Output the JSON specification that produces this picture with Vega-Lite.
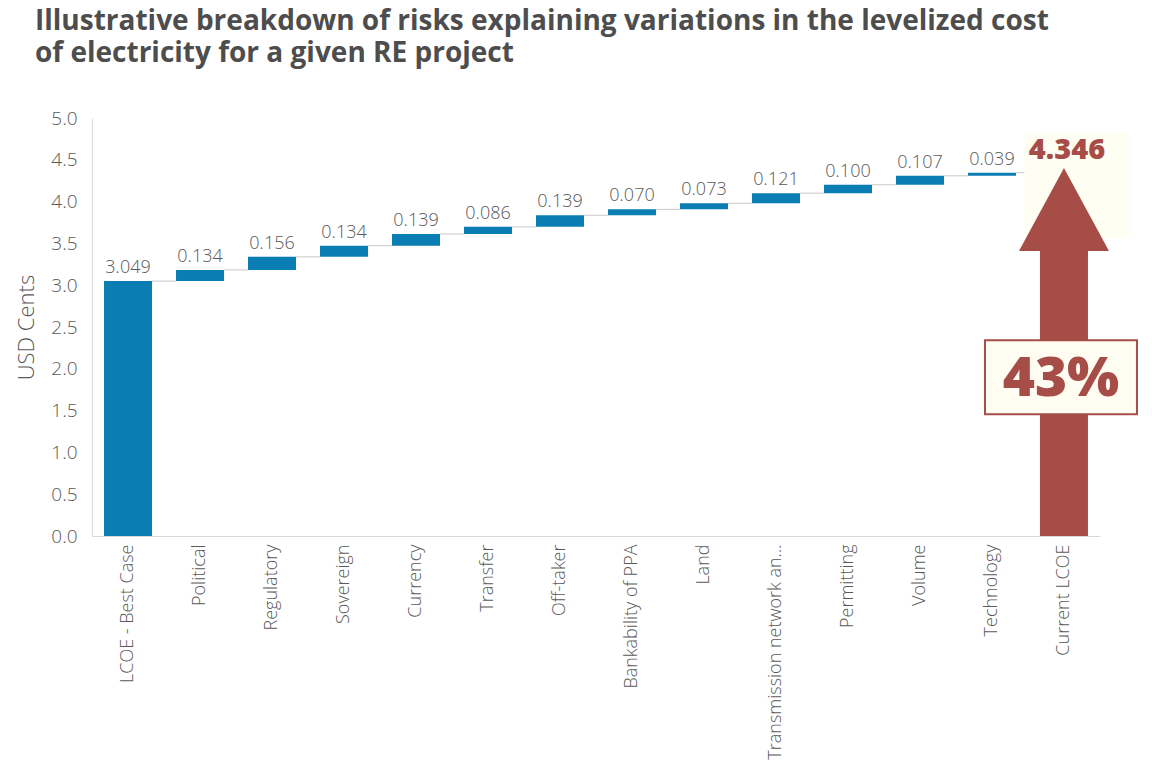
{
  "$schema": "https://vega.github.io/schema/vega-lite/v6.json",
  "autosize": "none",
  "width": 1008,
  "height": 418,
  "padding": {"left": 92, "top": 118, "right": 52, "bottom": 246},
  "background": "white",
  "config": {
    "view": {"stroke": null},
    "font": "Open Sans",
    "axis": {"labelFont": "Open Sans", "titleFont": "Open Sans", "labelColor": "#595959", "titleColor": "#595959"}
  },
  "title": {
    "text": ["Illustrative breakdown of risks explaining variations in the levelized cost", "of electricity for a given RE project"],
    "anchor": "start",
    "frame": "group",
    "dx": -57,
    "offset": 41,
    "font": "Open Sans",
    "fontSize": 28,
    "fontWeight": "bold",
    "color": "#4D4D4D",
    "lineHeight": 32
  },
  "data": {
    "values": [
      {"cat": "LCOE - Best Case", "kind": "base", "start": 0, "end": 3.049, "label": "3.049", "next": "Political"},
      {"cat": "Political", "kind": "risk", "start": 3.049, "end": 3.183, "label": "0.134", "next": "Regulatory"},
      {"cat": "Regulatory", "kind": "risk", "start": 3.183, "end": 3.339, "label": "0.156", "next": "Sovereign"},
      {"cat": "Sovereign", "kind": "risk", "start": 3.339, "end": 3.473, "label": "0.134", "next": "Currency"},
      {"cat": "Currency", "kind": "risk", "start": 3.473, "end": 3.612, "label": "0.139", "next": "Transfer"},
      {"cat": "Transfer", "kind": "risk", "start": 3.612, "end": 3.698, "label": "0.086", "next": "Off-taker"},
      {"cat": "Off-taker", "kind": "risk", "start": 3.698, "end": 3.837, "label": "0.139", "next": "Bankability of PPA"},
      {"cat": "Bankability of PPA", "kind": "risk", "start": 3.837, "end": 3.907, "label": "0.070", "next": "Land"},
      {"cat": "Land", "kind": "risk", "start": 3.907, "end": 3.98, "label": "0.073", "next": "Transmission network an…"},
      {"cat": "Transmission network an…", "kind": "risk", "start": 3.98, "end": 4.101, "label": "0.121", "next": "Permitting"},
      {"cat": "Permitting", "kind": "risk", "start": 4.101, "end": 4.201, "label": "0.100", "next": "Volume"},
      {"cat": "Volume", "kind": "risk", "start": 4.201, "end": 4.308, "label": "0.107", "next": "Technology"},
      {"cat": "Technology", "kind": "risk", "start": 4.308, "end": 4.346, "label": "0.039", "next": "Current LCOE"},
      {"cat": "Current LCOE", "kind": "total", "start": 0, "end": 3.42, "label": "4.346", "tip": 4.40, "head": 3.906, "pct": "43%", "pctY": 1.9, "boxTop": 4.82, "boxBottom": 3.565}
    ]
  },
  "encoding": {
    "x": {
      "field": "cat", "type": "nominal", "sort": null,
      "scale": {
        "domain": ["LCOE - Best Case", "Political", "Regulatory", "Sovereign", "Currency", "Transfer", "Off-taker", "Bankability of PPA", "Land", "Transmission network an…", "Permitting", "Volume", "Technology", "Current LCOE"],
        "paddingInner": 0.333, "paddingOuter": 0.167
      },
      "axis": {"title": null, "labelAngle": -90, "labelFontSize": 18, "labelFontWeight": 300, "labelPadding": 8, "ticks": false, "domainColor": "#D9D9D9", "labelLimit": 300}
    }
  },
  "layer": [
    {
      "transform": [{"filter": "datum.kind != 'total'"}],
      "mark": {"type": "rule", "color": "#C8C8C8", "strokeWidth": 1},
      "encoding": {
        "x": {"field": "cat", "type": "nominal", "sort": null, "bandPosition": 1},
        "x2": {"field": "next", "bandPosition": 0},
        "y": {"field": "end", "type": "quantitative"}
      }
    },
    {
      "transform": [{"filter": "datum.kind == 'total'"}],
      "mark": {"type": "bar", "color": "#FFFEF2", "width": 105, "xOffset": 13},
      "encoding": {
        "y": {"field": "boxTop", "type": "quantitative"},
        "y2": {"field": "boxBottom"}
      }
    },
    {
      "transform": [{"filter": "datum.kind != 'total'"}],
      "mark": {"type": "bar", "color": "#0A7DB3"},
      "encoding": {
        "y": {
          "field": "end", "type": "quantitative",
          "scale": {"domain": [0, 5], "nice": false},
          "axis": {"title": "USD Cents", "titleFontSize": 22, "titleFontWeight": 300, "titlePadding": 12, "labelFontSize": 19, "labelFontWeight": 300, "labelPadding": 15, "format": ".1f", "values": [0, 0.5, 1, 1.5, 2, 2.5, 3, 3.5, 4, 4.5, 5], "grid": false, "ticks": false, "domainColor": "#D9D9D9"}
        },
        "y2": {"field": "start"}
      }
    },
    {
      "transform": [{"filter": "datum.kind != 'total'"}],
      "mark": {"type": "text", "baseline": "bottom", "dy": -4, "fontSize": 18, "fontWeight": 300, "color": "#595959"},
      "encoding": {
        "y": {"field": "end", "type": "quantitative"},
        "text": {"field": "label"}
      }
    },
    {
      "transform": [{"filter": "datum.kind == 'total'"}],
      "mark": {"type": "bar", "color": "#A64D47"},
      "encoding": {
        "y": {"field": "end", "type": "quantitative"},
        "y2": {"field": "start"}
      }
    },
    {
      "transform": [{"filter": "datum.kind == 'total'"}],
      "mark": {"type": "point", "shape": "M0,-0.922L1,0.922L-1,0.922Z", "size": 8100, "filled": true, "color": "#A64D47", "opacity": 1},
      "encoding": {
        "y": {"field": "head", "type": "quantitative"}
      }
    },
    {
      "transform": [{"filter": "datum.kind == 'total'"}],
      "mark": {"type": "point", "shape": "M-1,-0.487L1,-0.487L1,0.487L-1,0.487Z", "size": 23104, "filled": false, "fill": "#FFFDF2", "fillOpacity": 1, "stroke": "#A64D47", "strokeWidth": 2, "opacity": 1, "xOffset": -3},
      "encoding": {
        "y": {"field": "pctY", "type": "quantitative"}
      }
    },
    {
      "transform": [{"filter": "datum.kind == 'total'"}],
      "mark": {"type": "text", "baseline": "middle", "fontSize": 55, "fontWeight": 800, "color": "#A64D47", "xOffset": -3, "dy": 2},
      "encoding": {
        "y": {"field": "pctY", "type": "quantitative"},
        "text": {"field": "pct"}
      }
    },
    {
      "transform": [{"filter": "datum.kind == 'total'"}],
      "mark": {"type": "text", "baseline": "bottom", "fontSize": 29, "fontWeight": 800, "color": "#A64D47", "dy": -3, "xOffset": 3},
      "encoding": {
        "y": {"field": "tip", "type": "quantitative"},
        "text": {"field": "label"}
      }
    }
  ]
}
